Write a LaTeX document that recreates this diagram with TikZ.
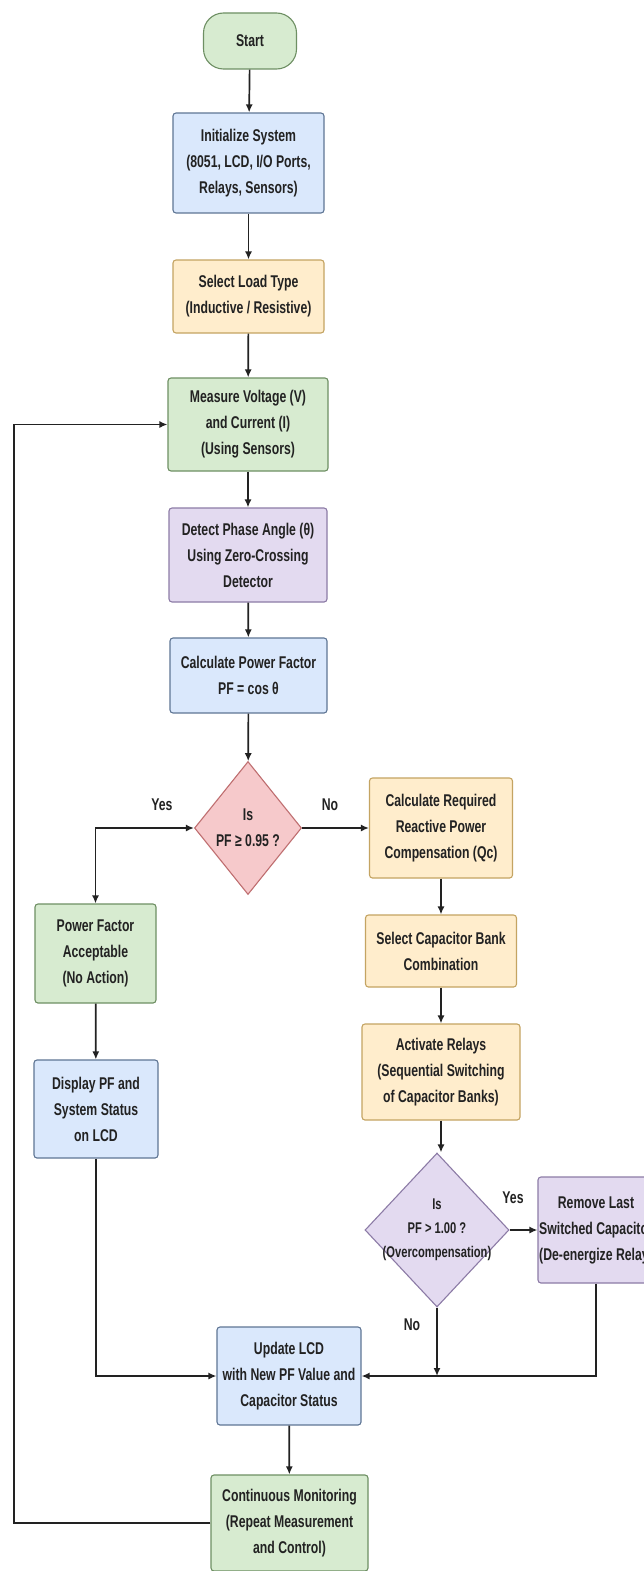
\documentclass[tikz,border=0pt]{standalone}
\usepackage{fontspec}
\setmainfont[FakeStretch=0.72]{Liberation Sans}
\usetikzlibrary{shapes.geometric,arrows.meta}

\definecolor{gfill}{HTML}{D7EBD0}
\definecolor{gdraw}{HTML}{6E8F63}
\definecolor{bfill}{HTML}{DAE8FC}
\definecolor{bdraw}{HTML}{5F7695}
\definecolor{ofill}{HTML}{FFEDCC}
\definecolor{odraw}{HTML}{C4A462}
\definecolor{pfill}{HTML}{E3DAF0}
\definecolor{pdraw}{HTML}{8C7BA6}
\definecolor{rfill}{HTML}{F6C9CB}
\definecolor{rdraw}{HTML}{BF6E70}
\definecolor{ink}{HTML}{222222}

\begin{document}
\begin{tikzpicture}[x=1pt,y=-1pt,
    box/.style={draw, rounded corners=3pt, line width=1.1pt, align=center, inner sep=0pt,
        font=\bfseries\fontsize{17}{26}\selectfont, text=ink},
    green/.style={box, fill=gfill, draw=gdraw},
    blue/.style={box, fill=bfill, draw=bdraw},
    orange/.style={box, fill=ofill, draw=odraw},
    purple/.style={box, fill=pfill, draw=pdraw},
    dia/.style={diamond, draw, line width=1.1pt, inner sep=0pt},
    txt/.style={align=center, inner sep=0pt, font=\bfseries\fontsize{17}{26}\selectfont, text=ink},
    lbl/.style={inner sep=0pt, font=\bfseries\fontsize{17}{20}\selectfont, text=ink},
    flow/.style={line width=1.7pt, draw=ink, -{Latex[length=8pt,width=7pt]}},
]
    \fill[white] (0,0) rectangle (644,1571);
    \useasboundingbox (0,0) rectangle (644,1571);

    % Main column
    \node[green, rounded corners=20pt, minimum width=93pt, minimum height=56pt] (start) at (250,41) {Start};
    \node[blue, minimum width=151pt, minimum height=100pt] (init) at (248.5,163) {Initialize System\\(8051, LCD, I/O Ports,\\Relays, Sensors)};
    \node[orange, minimum width=151pt, minimum height=73pt] (load) at (248.5,296.5) {Select Load Type\\(Inductive / Resistive)};
    \node[green, minimum width=160pt, minimum height=93pt] (measure) at (248,424.5) {Measure Voltage (V)\\and Current (I)\\(Using Sensors)};
    \node[purple, minimum width=158pt, minimum height=94pt] (detect) at (248,555) {Detect Phase Angle (θ)\\Using Zero-Crossing\\Detector};
    \node[blue, minimum width=157pt, minimum height=75pt] (calcpf) at (248.5,675.5) {Calculate Power Factor\\PF = cos θ};
    \node[dia, fill=rfill, draw=rdraw, minimum width=107pt, minimum height=133pt] (dec1) at (248,828) {};
    \node[txt] (dec1t) at (dec1.center) {Is\\PF ≥ 0.95 ?};

    % Right branch
    \node[orange, minimum width=143pt, minimum height=100pt] (calcreq) at (441,828) {Calculate Required\\Reactive Power\\Compensation (Qc)};
    \node[orange, minimum width=151pt, minimum height=72pt] (capbank) at (441,951) {Select Capacitor Bank\\Combination};
    \node[orange, minimum width=158pt, minimum height=96pt] (relays) at (441,1072) {Activate Relays\\(Sequential Switching\\of Capacitor Banks)};
    \node[dia, fill=pfill, draw=pdraw, minimum width=144pt, minimum height=154pt] (dec2) at (437,1230) {};
    \node[txt, font=\bfseries\fontsize{15.5}{24}\selectfont] (dec2t) at (dec2.center) {Is\\PF > 1.00 ?\\(Overcompensation)};
    \node[purple, minimum width=116pt, minimum height=106pt] (remove) at (596,1230) {Remove Last\\Switched Capacitor\\(De-energize Relay)};

    % Left branch
    \node[green, minimum width=121pt, minimum height=99pt] (accept) at (95.5,953.5) {Power Factor\\Acceptable\\(No Action)};
    \node[blue, minimum width=124pt, minimum height=98pt] (display) at (96,1109) {Display PF and\\System Status\\on LCD};

    % Bottom
    \node[blue, minimum width=144pt, minimum height=98pt] (update) at (289,1376) {Update LCD\\with New PF Value and\\Capacitor Status};
    \node[green, minimum width=157pt, minimum height=96pt] (monitor) at (289.5,1523) {Continuous Monitoring\\(Repeat Measurement\\and Control)};

    % Labels
    \node[lbl] (yes1) at (162,805) {Yes};
    \node[lbl] (no1) at (330,805) {No};
    \node[lbl] (yes2) at (513,1198) {Yes};
    \node[lbl] (no2) at (412,1325) {No};

    \coordinate (loop) at (14,0);

    % Arrows
    \draw[flow] (start) -- (init);
    \draw[flow] (init) -- (load);
    \draw[flow] (load) -- (measure);
    \draw[flow] (measure) -- (detect);
    \draw[flow] (detect) -- (calcpf);
    \draw[flow] (calcpf) -- (dec1);
    \draw[flow, {Latex[length=8pt,width=7pt]}-{Latex[length=8pt,width=7pt]}] (dec1.west) -| (accept.north);
    \draw[flow] (dec1.east) -- (calcreq.west);
    \draw[flow] (calcreq) -- (capbank);
    \draw[flow] (capbank) -- (relays);
    \draw[flow] (relays.south) -- (relays.south |- dec2.north);
    \draw[flow] (dec2.east) -- (remove.west);
    \draw[flow] (accept) -- (display);
    \draw[flow] (dec2.south) -- (dec2.south |- update.east);
    \draw[flow] (remove.south) |- (update.east);
    \draw[flow] (display.south) |- (update.west);
    \draw[flow] (update) -- (monitor);
    \draw[flow] (monitor.west) -- (monitor.west -| loop) |- (measure.west);
\end{tikzpicture}
\end{document}
